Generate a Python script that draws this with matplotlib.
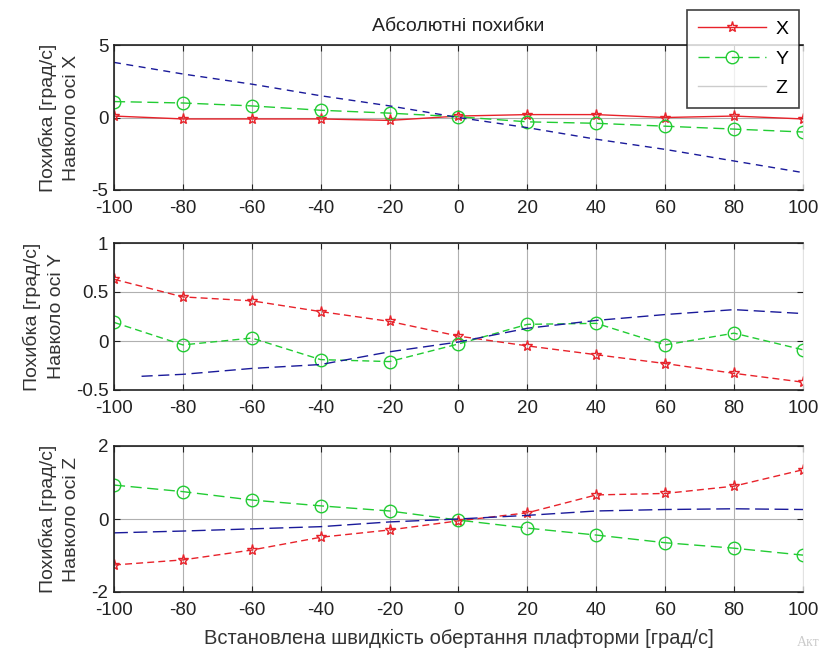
import matplotlib
matplotlib.use("Agg")
import matplotlib.pyplot as plt

plt.rcParams['font.family'] = ['Liberation Sans', 'DejaVu Sans']
plt.rcParams['axes.unicode_minus'] = False

speeds = [-100, -80, -60, -40, -20, 0, 20, 40, 60, 80, 100]

# subplot 1: around axis X
x_err1 = [0.1, -0.1, -0.1, -0.1, -0.2, 0.1, 0.2, 0.2, 0.0, 0.1, -0.1]
y_err1 = [1.1, 1.0, 0.8, 0.5, 0.3, 0.05, -0.3, -0.4, -0.6, -0.8, -1.0]
z_err1 = [3.8, 3.0, 2.3, 1.5, 0.8, 0.0, -0.7, -1.5, -2.2, -3.0, -3.8]

# subplot 2: around axis Y
x_err2 = [0.63, 0.45, 0.41, 0.30, 0.20, 0.05, -0.05, -0.14, -0.23, -0.33, -0.42]
y_err2 = [0.19, -0.04, 0.03, -0.19, -0.21, -0.03, 0.17, 0.18, -0.04, 0.08, -0.09]
z_speeds2 = [-92, -80, -60, -40, -20, 0, 20, 40, 60, 80, 100]
z_err2 = [-0.36, -0.34, -0.28, -0.24, -0.11, -0.01, 0.13, 0.21, 0.27, 0.32, 0.28]

# subplot 3: around axis Z
x_err3 = [-1.26, -1.12, -0.85, -0.50, -0.30, -0.05, 0.17, 0.66, 0.70, 0.90, 1.35]
y_err3 = [0.93, 0.75, 0.52, 0.36, 0.22, -0.03, -0.25, -0.44, -0.65, -0.80, -0.99]
z_err3 = [-0.38, -0.33, -0.27, -0.21, -0.08, 0.0, 0.10, 0.22, 0.26, 0.28, 0.26]

xticks = [-100, -80, -60, -40, -20, 0, 20, 40, 60, 80, 100]
ylims = [(-5, 5), (-0.5, 1), (-2, 2)]
yticks = [[-5, 0, 5], [-0.5, 0, 0.5, 1], [-2, 0, 2]]
ylabels = ["Похибка [град/с]\nНавколо осі X",
           "Похибка [град/с]\nНавколо осі Y",
           "Похибка [град/с]\nНавколо осі Z"]

fig = plt.figure(figsize=(8.29, 6.54), dpi=100)
W, H = 829, 654
rects = [(45, 190), (243, 390), (446, 592)]
left, right = 114, 803
axes = []
for (t, b) in rects:
    ax = fig.add_axes([left / W, 1 - b / H, (right - left) / W, (b - t) / H])
    axes.append(ax)

red, green, blue = '#e8222a', '#22cc33', '#1a1a9a'

ax = axes[0]
l1, = ax.plot(speeds, x_err1, color=red, ls='-', lw=1.0, marker='*', ms=8,
              mfc='none', mec=red, label='X')
l2, = ax.plot(speeds, y_err1, color=green, ls=(0, (8, 4)), lw=1.0, marker='o', ms=9,
              mfc='none', mec=green, label='Y')
l3, = ax.plot(speeds, z_err1, color=blue, ls=(0, (5, 4)), lw=1.0, label='Z')

ax = axes[1]
ax.plot(speeds, x_err2, color=red, ls=(0, (5, 3)), lw=1.0, marker='*', ms=8,
        mfc='none', mec=red)
ax.plot(speeds, y_err2, color=green, ls=(0, (5, 3)), lw=1.0, marker='o', ms=9,
        mfc='none', mec=green)
ax.plot(z_speeds2, z_err2, color=blue, ls=(0, (8, 4)), lw=1.0)

ax = axes[2]
ax.plot(speeds, x_err3, color=red, ls=(0, (5, 3)), lw=1.0, marker='*', ms=8,
        mfc='none', mec=red)
ax.plot(speeds, y_err3, color=green, ls=(0, (8, 4)), lw=1.0, marker='o', ms=9,
        mfc='none', mec=green)
ax.plot(speeds, z_err3, color=blue, ls=(0, (10, 4)), lw=1.0)

for i, ax in enumerate(axes):
    ax.set_xlim(-100, 100)
    ax.set_ylim(*ylims[i])
    ax.set_xticks(xticks)
    ax.set_yticks(yticks[i])
    ax.set_yticklabels([f"{v:g}" for v in yticks[i]])
    ax.grid(True, color='#b0b0b0', lw=0.8, ls='-')
    ax.set_axisbelow(True)
    ax.tick_params(direction='in', labelsize=13.5, length=4, colors='#222222',
                   top=True, right=True)
    ax.tick_params(axis='x', pad=7)
    ax.tick_params(axis='y', pad=4)
    for s in ['left', 'top', 'bottom']:
        ax.spines[s].set_color('#222222')
        ax.spines[s].set_linewidth(1.2)
    ax.spines['right'].set_color('#dddddd')
    ax.spines['right'].set_linewidth(0.6)
    ax.set_ylabel(ylabels[i], fontsize=14, color='#333333', labelpad=8,
                  linespacing=1.5)

axes[0].set_title("Абсолютні похибки", fontsize=14, color='#222222', pad=10)
axes[2].set_xlabel("Встановлена швидкість обертання плафторми [град/с]",
                   fontsize=14.5, color='#333333', labelpad=7)

leg = fig.legend(handles=[l1, l2, l3], labels=['X', 'Y', 'Z'],
                 loc='upper left', bbox_to_anchor=(687 / W, 1 - 10 / H),
                 fontsize=14, frameon=True, fancybox=False, edgecolor='#111111',
                 borderpad=0.55, labelspacing=0.6, handlelength=3.5,
                 handletextpad=0.5, borderaxespad=0)
leg.get_frame().set_linewidth(1.2)
leg.legend_handles[2].set_linestyle('-')
leg.legend_handles[2].set_color('#cccccc')

fig.text(797 / W, 1 - 643 / H, "Акт", fontsize=10, color='#cccccc',
         ha='left', va='center', family='Liberation Serif')

fig.savefig("out.png", dpi=100, facecolor='white')
